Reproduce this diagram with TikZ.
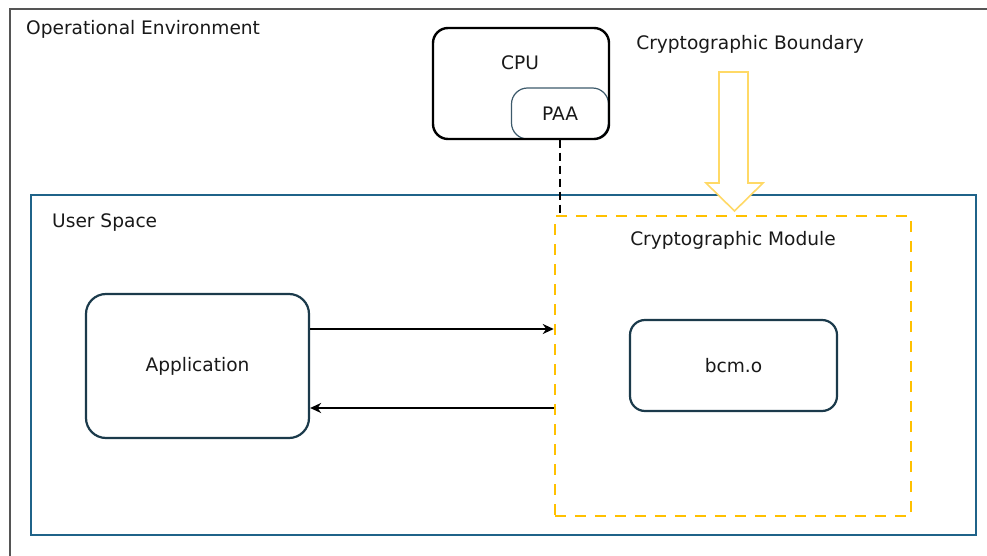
\documentclass[tikz,border=0pt]{standalone}
\usepackage{fontspec}
\setmainfont{DejaVu Sans}
\usetikzlibrary{arrows.meta}
\definecolor{framegray}{HTML}{555555}
\definecolor{userblue}{HTML}{1F6389}
\definecolor{modyellow}{HTML}{FFC000}
\definecolor{arrowyellow}{HTML}{FFD966}
\definecolor{boxdark}{HTML}{1B3A4B}
\definecolor{paaborder}{HTML}{3D5A6B}
\tikzset{
  lbl/.style={font=\fontsize{18.6}{21}\selectfont, text=black!90, inner sep=0pt},
  roundbox/.style={draw=boxdark, line width=2.2pt, rounded corners=#1, lbl},
  flowarrow/.style={draw=black, line width=2pt, -{Stealth[length=11pt,width=10pt,inset=3.5pt]}},
}
\begin{document}
\begin{tikzpicture}[x=1pt,y=-1pt]
\useasboundingbox (0,0) rectangle (987,556);
% operational environment frame
\draw[framegray, line width=2pt] (10,560) -- (10,9) -- (990,9);
\node[lbl, anchor=west] (openv) at (26,29) {Operational Environment};
% user space
\node[draw=userblue, line width=2.6pt, minimum width=945pt, minimum height=340pt, inner sep=0pt] (user) at (503.5,365) {};
\node[lbl, anchor=west] (userlbl) at (52,223) {User Space};
% cryptographic module
\node[draw=modyellow, line width=2.5pt, dash pattern=on 11pt off 9pt, minimum width=356pt, minimum height=300pt, inner sep=0pt] (module) at (733,366) {};
\node[lbl] (modlbl) at (733,240) {Cryptographic Module};
% CPU and PAA
\node[draw=paaborder, line width=1.2pt, rounded corners=16pt, minimum width=97pt, minimum height=51pt, lbl] (paa) at (560,113.5) {PAA};
\node[draw=black, line width=2.4pt, rounded corners=15pt, minimum width=176pt, minimum height=111pt] (cpu) at (521,83.5) {};
\node[lbl] (cpulbl) at (520,63) {CPU};
\draw[black, line width=2.2pt, dash pattern=on 8pt off 5pt] (paa.south) -- (paa.south |- module.north);
% boundary arrow
\draw[arrowyellow, line width=1.6pt, fill=white, line join=miter]
  (719,72) -- (748,72) -- (748,183) -- (763,183) -- (734.5,211) -- (706,183) -- (719,183) -- cycle;
\node[lbl] (boundlbl) at (750,44) {Cryptographic Boundary};
% application and bcm.o
\node[roundbox=20pt, minimum width=223pt, minimum height=144pt] (app) at (197.5,366) {Application};
\node[roundbox=15pt, minimum width=207pt, minimum height=91pt] (bcm) at (733.5,365.5) {bcm.o};
% flows
\draw[flowarrow] ([yshift=37pt]app.east) -- ([yshift=37pt]app.east -| module.west);
\draw[flowarrow] ([yshift=-42pt]app.east -| module.west) -- ([yshift=-42pt]app.east);
\end{tikzpicture}
\end{document}
